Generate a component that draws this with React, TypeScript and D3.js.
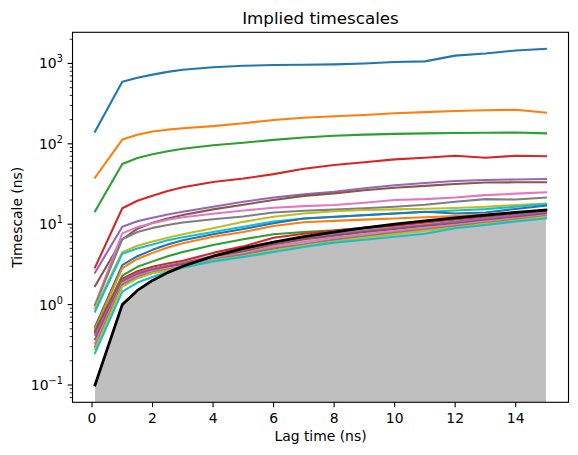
import React from "react";
import * as d3 from "d3";

const lags = [0.1, 1, 1.5, 2, 2.5, 3, 4, 5, 6, 7, 8, 9, 10, 11, 12, 13, 14, 15];

const its01 = [142, 590, 665, 725, 785, 835, 895, 935, 955, 962, 972, 1000, 1040, 1060, 1250, 1330, 1450, 1520];
const its02 = [38, 113, 130, 142, 150, 156, 166, 180, 198, 211, 220, 228, 240, 248, 256, 261, 265, 244];
const its03 = [14.5, 56, 66.5, 74, 81, 87, 96, 103, 112, 120, 126, 130, 133, 135, 136, 137, 138, 135];
const its04 = [2.9, 15.8, 19.6, 22.6, 25.9, 28.8, 33.5, 37, 42, 49, 54.5, 59, 64, 67, 71, 67, 71, 70];
const its05 = [2.5, 9.3, 10.9, 12, 13.2, 14.3, 16.5, 19, 21.5, 23.5, 25.4, 28, 30.5, 32.5, 34.5, 35.5, 36, 36.5];
const its06 = [1.7, 6.5, 8.8, 10.4, 11.8, 13, 15.3, 17.5, 20, 22.5, 24.2, 26.5, 28.4, 30, 31.6, 33, 33.2, 33.2];
const its07 = [1.0, 7.7, 9.2, 10.3, 11.4, 12.2, 13.5, 14.8, 16, 16.8, 17.3, 18.5, 20, 20.5, 21.5, 23, 24, 24.9];
const its08 = [0.98, 6.5, 8.0, 9.0, 9.8, 10.5, 11.5, 12.5, 14, 14.7, 15.2, 15.8, 16.5, 17.5, 19, 20.5, 20.3, 21.4];
const its09 = [0.9, 4.5, 5.4, 6.1, 6.8, 7.5, 8.9, 10.7, 12.4, 13.6, 14.5, 15, 15.3, 15.6, 15.9, 16.5, 17.3, 18];
const its10 = [0.82, 4.3, 5.0, 5.6, 6.3, 6.9, 8, 9.3, 10.8, 11.8, 12.3, 13, 13.6, 14.2, 14.8, 15.4, 16.5, 17.8];
const its11 = [0.53, 3.1, 4.0, 4.8, 5.6, 6.3, 7.5, 8.7, 10.3, 11.8, 12.4, 12.9, 13.6, 14.3, 13.6, 14, 15.5, 17];
const its12 = [0.5, 2.85, 3.7, 4.4, 5.12, 5.8, 7, 8, 9.5, 10.6, 11, 11.4, 11.8, 12.2, 12.6, 13.2, 14, 14.8];
const its13 = [0.47, 2.3, 2.95, 3.45, 3.99, 4.5, 5.5, 6.5, 7.5, 8, 8.4, 9, 9.8, 10.7, 11.5, 12.5, 13.5, 14.5];
const its14 = [0.45, 2.1, 2.6, 2.95, 3.24, 3.5, 4.4, 5.3, 6.8, 7.6, 8.3, 9, 9.6, 10.5, 11.5, 12.5, 13.5, 14.8];
const its15 = [0.42, 2.0, 2.47, 2.8, 3.06, 3.3, 4.05, 4.8, 6.0, 6.8, 7.5, 8.3, 9, 9.8, 10.8, 11.8, 12.8, 14];
const its16 = [0.37, 1.93, 2.38, 2.7, 2.96, 3.2, 3.95, 4.6, 5.6, 6.5, 7.2, 8, 8.7, 9.5, 10.3, 11.3, 12.3, 13.5];
const its17 = [0.33, 1.85, 2.29, 2.6, 2.81, 3.0, 3.75, 4.3, 5.3, 6, 6.8, 7.5, 8.2, 9, 9.8, 10.8, 11.8, 13];
const its18 = [0.3, 1.77, 2.2, 2.5, 2.71, 2.9, 3.65, 4.2, 5.0, 5.6, 6.4, 7.1, 7.8, 8.6, 9.4, 10.4, 11.4, 12.6];
const its19 = [0.28, 1.67, 2.12, 2.45, 2.66, 2.85, 3.55, 4.0, 4.7, 5.4, 6.1, 6.8, 7.5, 8.3, 9.1, 10.1, 11.1, 12.3];
const its20 = [0.25, 1.45, 1.88, 2.2, 2.56, 2.9, 3.45, 3.9, 4.5, 5.2, 5.9, 6.4, 7.0, 7.6, 8.9, 9.8, 10.8, 11.8];

const series = [its01, its02, its03, its04, its05, its06, its07, its08, its09, its10,
  its11, its12, its13, its14, its15, its16, its17, its18, its19, its20];

const palette = ["#1f77b4", "#ff7f0e", "#2ca02c", "#d62728", "#9467bd",
  "#8c564b", "#e377c2", "#7f7f7f", "#bcbd22", "#17becf"];

const xTicks = [0, 2, 4, 6, 8, 10, 12, 14];
const yExps = [-1, 0, 1, 2, 3];

const W = 578, H = 455;
const L = 72.5, R = 568.5, T = 32.3, B = 402.3;

export default function App() {
  const x = d3.scaleLinear().domain([-0.645, 15.745]).range([L, R]);
  const y = d3.scaleLog().domain([Math.pow(10, -1.215), Math.pow(10, 3.387)]).range([B, T]);
  const line = d3.line<number>().x((_, i) => x(lags[i])).y((d) => y(d));
  const area = d3.area<number>().x((d) => x(d)).y0(B).y1((d) => y(d));
  const [y0, y1] = y.domain();
  const minor: number[] = [];
  for (let e = -2; e <= 4; e++) {
    for (let m = 2; m <= 9; m++) {
      const v = m * Math.pow(10, e);
      if (v >= y0 && v <= y1) minor.push(v);
    }
  }
  const font = "DejaVu Sans, sans-serif";
  return (
    <svg width={W} height={H} style={{ position: "absolute", left: 0, top: 0, background: "#fff" }}
      fontFamily={font}>
      <rect x={0} y={0} width={W} height={H} fill="#fff" />
      <defs>
        <clipPath id="clip"><rect x={L} y={T} width={R - L} height={B - T} /></clipPath>
      </defs>
      <g clipPath="url(#clip)">
        <path d={area(lags) || ""} fill="#808080" fillOpacity={0.5} stroke="none" />
        {series.map((s, i) => (
          <path key={i} d={line(s) || ""} fill="none" stroke={palette[i % 10]} strokeWidth={2.08}
            strokeLinejoin="round" strokeLinecap="square" />
        ))}
        <path d={line(lags) || ""} fill="none" stroke="#000" strokeWidth={2.78} strokeLinejoin="round" strokeLinecap="square" />
      </g>
      <rect x={L} y={T} width={R - L} height={B - T} fill="none" stroke="#000" strokeWidth={1.1} />
      {xTicks.map((t) => (
        <g key={t}>
          <line x1={x(t)} x2={x(t)} y1={B} y2={B + 4.86} stroke="#000" strokeWidth={1.1} />
          <text x={x(t)} y={B + 20.5} textAnchor="middle" fontSize={13.9} fill="#000">{t}</text>
        </g>
      ))}
      {minor.map((v, i) => (
        <line key={i} x1={L - 2.78} x2={L} y1={y(v)} y2={y(v)} stroke="#000" strokeWidth={0.83} />
      ))}
      {yExps.map((e) => (
        <g key={e}>
          <line x1={L - 4.86} x2={L} y1={y(Math.pow(10, e))} y2={y(Math.pow(10, e))} stroke="#000" strokeWidth={1.1} />
          <text x={L - 9.7} y={y(Math.pow(10, e)) + 5} textAnchor="end" fontSize={13.9} fill="#000">
            10<tspan dy={-6} fontSize={9.7}>{e < 0 ? "\u2212" + Math.abs(e) : String(e)}</tspan>
          </text>
        </g>
      ))}
      <text x={(L + R) / 2} y={24} textAnchor="middle" fontSize={16.7} fill="#000">Implied timescales</text>
      <text x={(L + R) / 2} y={441} textAnchor="middle" fontSize={13.9} fill="#000">Lag time (ns)</text>
      <text transform={`translate(21.5, ${(T + B) / 2}) rotate(-90)`} textAnchor="middle" fontSize={13.9} fill="#000">Timescale (ns)</text>
    </svg>
  );
}
